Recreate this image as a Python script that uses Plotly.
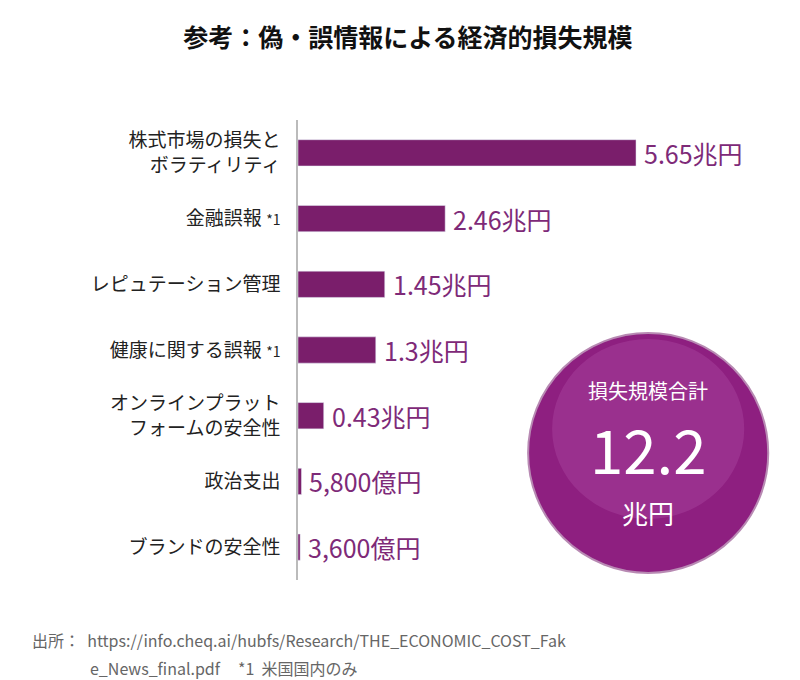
import plotly.graph_objects as go

categories = ["株式市場の損失と<br>ボラティリティ", "金融誤報 <span style='font-size:14px'>*1</span>", "レピュテーション管理",
              "健康に関する誤報 <span style='font-size:14px'>*1</span>", "オンラインプラット<br>フォームの安全性", "政治支出", "ブランドの安全性"]
values = [5.65, 2.46, 1.45, 1.3, 0.43, 0.058, 0.036]
labels = ["5.65兆円", "2.46兆円", "1.45兆円", "1.3兆円", "0.43兆円", "5,800億円", "3,600億円"]

bar_color = "#7A1E6B"
text_color = "#7E2A78"

fig = go.Figure(go.Bar(x=values, y=list(range(len(categories))), orientation="h", width=0.4,
                       marker_color=bar_color))

for i, (v, t) in enumerate(zip(values, labels)):
    fig.add_annotation(x=v, y=i, text=t, xanchor="left", showarrow=False, xshift=6,
                       font=dict(size=25, color=text_color))

fig.update_layout(
    width=800, height=680, plot_bgcolor="white", paper_bgcolor="white",
    margin=dict(l=290, r=20, t=112, b=108, autoexpand=False),
    font=dict(family="Noto Sans CJK JP", color="#222"),
    showlegend=False,
    title=dict(text="<b>参考：偽・誤情報による経済的損失規模</b>", x=0.5, y=0.955, yanchor="middle",
               xanchor="center", font=dict(size=25, color="#111")),
    xaxis=dict(range=[0, 8.19], visible=False, fixedrange=True),
    yaxis=dict(range=[6.5, -0.5], showline=True, linecolor="#BBBBBB", linewidth=1.5,
               tickvals=list(range(len(categories))), ticktext=categories, automargin=False,
               ticks="", tickfont=dict(size=19, color="#222"), ticklabelstandoff=12),
)

# total circle, data coords (59.8 px per x unit, 65.7 px per y unit)
cx, cy = (640 - 290) / 59.8, (445 - 145) / 65.7
rx, ry = 120 / 59.8, 120 / 65.7
fig.add_shape(type="circle", x0=cx - rx, x1=cx + rx, y0=cy - ry, y1=cy + ry,
              fillcolor="#8E1F80", line=dict(color="#B88AB3", width=2))
fig.add_shape(type="circle", x0=cx - rx * 0.8, x1=cx + rx * 0.8, y0=cy - ry * 0.95, y1=cy + ry * 0.55,
              fillcolor="rgba(200,110,190,0.22)", line=dict(width=0))

for yy, t, s in [(383, "損失規模合計", 20), (440, "12.2", 60), (505, "兆円", 26)]:
    fig.add_annotation(x=cx, y=(yy - 145) / 65.7, text=t, showarrow=False, yanchor="middle",
                       font=dict(size=s, color="white"))

fig.add_annotation(x=(22 - 290) / 490, y=(572 - 632) / 460, xref="paper", yref="paper", xanchor="left",
                   yanchor="middle", text="出所：  https://info.cheq.ai/hubfs/Research/THE_ECONOMIC_COST_Fak",
                   showarrow=False, font=dict(size=16, color="#666"))
fig.add_annotation(x=(80 - 290) / 490, y=(572 - 660) / 460, xref="paper", yref="paper", xanchor="left",
                   yanchor="middle", text="e_News_final.pdf     *1  米国国内のみ",
                   showarrow=False, font=dict(size=16, color="#666"))

fig.write_html("out.html")
